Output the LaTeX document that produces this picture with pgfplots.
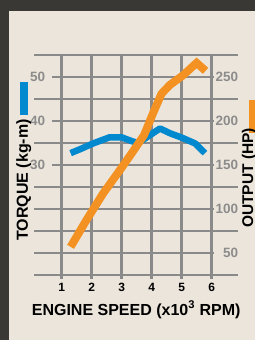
\documentclass[border=0pt]{standalone}
\usepackage{pgfplots}
\pgfplotsset{compat=1.18}
\usepackage{fontspec}
\setmainfont{Liberation Sans}
\definecolor{bg}{RGB}{236,229,219}
\definecolor{dark}{RGB}{58,56,53}
\definecolor{gridc}{RGB}{138,138,138}
\definecolor{tq}{RGB}{0,137,207}
\definecolor{hp}{RGB}{243,146,35}
\definecolor{lab}{RGB}{140,140,140}
\pgfplotstableread{
x y
1.30 32.7
1.62 33.6
2.05 34.9
2.60 36.3
3.00 36.3
3.35 35.4
3.55 35.0
3.95 36.8
4.28 38.3
4.62 37.2
5.05 36.1
5.45 34.9
5.78 32.7
}\torque
\pgfplotstableread{
x y
1.30 57
1.83 87.5
2.39 118
2.94 144
3.33 163
3.61 177
3.75 184
4.05 209
4.33 231
4.61 241
5.05 252
5.50 266
5.80 257
}\output
\begin{document}
\begin{tikzpicture}
\useasboundingbox (0,0) rectangle (255bp,340bp);
\fill[dark] (0,0) rectangle (255bp,340bp);
\fill[bg] (9bp,0) rectangle (255bp,329bp);
\fill[tq] (20bp,225bp) rectangle (28bp,258bp);
\fill[hp] (249bp,207bp) rectangle (256bp,240bp);
\begin{axis}[
  at={(34bp,65bp)}, anchor=south west,
  scale only axis, width=204.3bp, height=220bp,
  xmin=0.08, xmax=6.89, ymin=5, ymax=55,
  axis line style={draw=none},
  xtick={1,...,6}, xticklabels={1,2,3,4,5,6},
  ytick={30,40,50}, yticklabels={30,40,50},
  minor ytick={5,10,15,20,25,35,45,55},
  grid=both,
  major grid style={gridc, line width=2.6bp},
  minor grid style={gridc, line width=2.6bp},
  tick align=outside, major tick length=4bp, minor tick length=0pt,
  xtick style={gridc, line width=2.6bp},
  ytick style={draw=none},
  xtick pos=bottom, ytick pos=left,
  /pgf/number format/assume math mode=true,
  xticklabel style={font=\fontsize{12bp}{14bp}\selectfont\bfseries, text=black, anchor=base, inner sep=0pt, yshift=-12bp},
  yticklabel style={font=\fontsize{13.5bp}{16bp}\selectfont\bfseries, text=lab, anchor=west, text width=22bp, align=left, fill=bg, inner sep=0pt},
  xlabel={ENGINE SPEED (x10\textsuperscript{3} RPM)},
  every axis x label/.style={at={(axis description cs:0.5,0)}, anchor=base, yshift=-40bp, font=\fontsize{16bp}{18bp}\selectfont\bfseries},
  ylabel={TORQUE (kg-m)},
  every axis y label/.style={at={(axis description cs:-0.0294,0.4318)}, rotate=90, anchor=base, font=\fontsize{16bp}{18bp}\selectfont\bfseries},
]
\addplot[tq, line width=6.5bp, line join=round] table[x=x,y=y] {\torque};
\end{axis}
\begin{axis}[
  at={(34bp,65bp)}, anchor=south west,
  scale only axis, width=204.3bp, height=220bp,
  xmin=0.08, xmax=6.89, ymin=25, ymax=275,
  axis line style={draw=none},
  xtick=\empty,
  ytick={50,100,150,200,250},
  yticklabel pos=right,
  tick style={draw=none},
  /pgf/number format/assume math mode=true,
  yticklabel style={font=\fontsize{13.5bp}{16bp}\selectfont\bfseries, text=lab, anchor=east, text width=24.3bp, align=right, fill=bg, inner sep=0pt},
  ylabel={OUTPUT (HP)},
  every axis y label/.style={at={(axis description cs:1.0720,0.441)}, rotate=90, anchor=base, font=\fontsize{15.5bp}{18bp}\selectfont\bfseries},
]
\addplot[hp, line width=8bp, line join=miter] table[x=x,y=y] {\output};
\end{axis}
\end{tikzpicture}
\end{document}
